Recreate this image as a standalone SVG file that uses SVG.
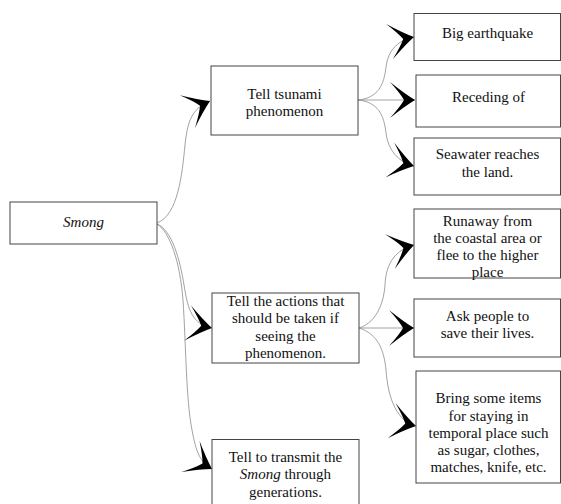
<svg xmlns="http://www.w3.org/2000/svg" width="561" height="504" viewBox="0 0 561 504">
<style>
.box{fill:#fff;stroke:#444;stroke-width:1}
.t{font-family:"Liberation Serif","Times New Roman",serif;font-size:15px;fill:#111;text-anchor:middle}
.i{font-style:italic}
.c{fill:none;stroke:#8a8a8a;stroke-width:0.8}
</style>
<defs>
<marker id="ah" markerUnits="userSpaceOnUse" markerWidth="28" markerHeight="40" viewBox="-26 -20 28 40" refX="0" refY="0" orient="auto">
<path d="M0,0 Q-10,-6 -25,-18 Q-15,-7 -11,0 Q-15,7 -25,18 Q-10,6 0,0 Z" fill="#000"/>
</marker>
</defs>
<rect width="561" height="504" fill="#fff"/>
<g id="connectors">
<path class="c" d="M157,223 C178,215 182,175 185,145 S195,108 210,101" marker-end="url(#ah)"/>
<path class="c" d="M157,224 C172,230 180,260 184,285 S192,324 212,328" marker-end="url(#ah)"/>
<path class="c" d="M157,224 C170,232 180,262 183,300 C186,345 186,400 192,430 C196,452 200,462 212,469" marker-end="url(#ah)"/>
<path class="c" d="M358,100 C378,98 384,85 386,67 C388,50 398,40 414,37" marker-end="url(#ah)"/>
<path class="c" d="M358,100 L415,100" marker-end="url(#ah)"/>
<path class="c" d="M358,100 C378,102 384,115 386,133 C388,150 398,162 414,166" marker-end="url(#ah)"/>
<path class="c" d="M359,328 C378,322 384,300 385,285 C386,262 396,250 414,245" marker-end="url(#ah)"/>
<path class="c" d="M359,328 L414,328" marker-end="url(#ah)"/>
<path class="c" d="M359,328 C378,334 384,350 386,370 C388,400 398,422 416,426" marker-end="url(#ah)"/>
</g>
<g id="smong">
<rect class="box" x="10" y="202" width="147" height="42"/>
<text class="t i" x="83.5" y="227">Smong</text>
</g>
<g id="tell-tsunami">
<rect class="box" x="211" y="66" width="147" height="69"/>
<text class="t" x="284.5" y="99">Tell tsunami</text>
<text class="t" x="284.5" y="116">phenomenon</text>
</g>
<g id="tell-actions">
<rect class="box" x="212" y="293" width="147" height="70"/>
<text class="t" x="285.5" y="306">Tell the actions that</text>
<text class="t" x="285.5" y="323">should be taken if</text>
<text class="t" x="285.5" y="341">seeing the</text>
<text class="t" x="285.5" y="358">phenomenon.</text>
</g>
<g id="tell-transmit">
<rect class="box" x="212" y="439.5" width="147" height="66"/>
<text class="t" x="285.5" y="462">Tell to transmit the</text>
<text class="t" x="285.5" y="479"><tspan class="i">Smong</tspan> through</text>
<text class="t" x="285.5" y="497">generations.</text>
</g>
<g id="big-earthquake">
<rect class="box" x="414" y="13.5" width="146.5" height="47"/>
<text class="t" x="487.5" y="37.5">Big earthquake</text>
</g>
<g id="receding">
<rect class="box" x="416" y="75" width="144.5" height="52"/>
<text class="t" x="488.5" y="102">Receding of</text>
</g>
<g id="seawater">
<rect class="box" x="414" y="138" width="146.5" height="57"/>
<text class="t" x="487.5" y="159">Seawater reaches</text>
<text class="t" x="487.5" y="177">the land.</text>
</g>
<g id="runaway">
<rect class="box" x="414" y="209" width="146.5" height="69"/>
<text class="t" x="487.5" y="226">Runaway from</text>
<text class="t" x="487.5" y="243">the coastal area or</text>
<text class="t" x="487.5" y="260">flee to the higher</text>
<text class="t" x="487.5" y="277">place</text>
</g>
<g id="ask-people">
<rect class="box" x="414" y="299" width="146.5" height="58"/>
<text class="t" x="487.5" y="321">Ask people to</text>
<text class="t" x="487.5" y="338">save their lives.</text>
</g>
<g id="bring-items">
<rect class="box" x="416" y="371" width="144.5" height="112"/>
<text class="t" x="488.5" y="403">Bring some items</text>
<text class="t" x="488.5" y="420.5">for staying in</text>
<text class="t" x="488.5" y="438">temporal place such</text>
<text class="t" x="488.5" y="455">as sugar, clothes,</text>
<text class="t" x="488.5" y="472">matches, knife, etc.</text>
</g>
</svg>
